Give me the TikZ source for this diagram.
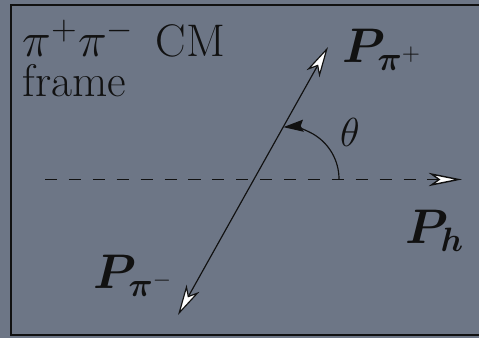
\documentclass[tikz,border=0pt]{standalone}
\usepackage{amsmath,amssymb,bm}
\usetikzlibrary{arrows.meta, calc}
\definecolor{slate}{HTML}{6D7686}
\definecolor{inkblk}{HTML}{111111}

\begin{document}
\begin{tikzpicture}[x=0.015cm, y=0.015cm,
  momtip/.style={-{Stealth[length=4.6mm, width=2.2mm, inset=1.3mm, fill=white]}},
  lbl/.style={text=inkblk, inner sep=0pt},
  vec/.style={lbl, font=\fontsize{19.5}{23}\selectfont, anchor=base west}]

% Background
\fill[slate] (0,0) rectangle (479,338);
\useasboundingbox (0,0) rectangle (479,338);

% Frame border
\draw[inkblk, line width=0.9pt] (479,333) -- (11,333) -- (11,3) -- (479,3);

% Title
\node[lbl, font=\fontsize{19.5}{17}\selectfont, align=left, anchor=north west] (title) at (22,319)
  {$\pi^+\pi^-$\ \,CM\\frame};

% Beam axis (dashed)
\coordinate (axisL) at (45,158.5);
\coordinate (axisR) at (462,158.5);
\draw[inkblk, line width=0.6pt, dash pattern=on 5.2pt off 5pt,
  -{Stealth[length=5mm, width=2mm, inset=1.4mm, fill=white]}] (axisL) -- (axisR);

% Pion momenta
\coordinate (pimtip) at (178,23);
\coordinate (piptip) at (328,291);
\draw[inkblk, line width=0.5pt, momtip] ($(pimtip)!0.5!(piptip)$) -- (piptip);
\draw[inkblk, line width=0.5pt, momtip] ($(pimtip)!0.5!(piptip)$) -- (pimtip);

% Angle theta
\coordinate (arcstart) at (339,159);
\draw[inkblk, line width=0.5pt, -{Stealth[length=3mm, width=1.8mm, inset=0.4mm]}]
  (arcstart) arc[start angle=0, end angle=94, radius=52];
\node[lbl, font=\LARGE] (theta) at (350,206) {$\theta$};

% Labels
\node[vec] (pip) at (342,275) {$\bm{P}_{\bm{\pi}^+}$};
\node[vec] (ph) at (405,94) {$\bm{P}_{\bm{h}}$};
\node[vec] (pim) at (93,49) {$\bm{P}_{\bm{\pi}^-}$};

\end{tikzpicture}
\end{document}
